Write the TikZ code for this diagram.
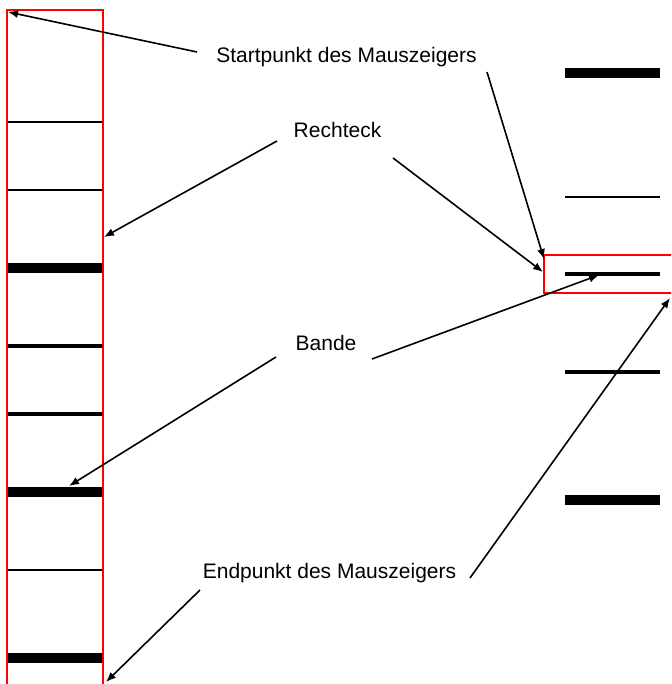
\documentclass[tikz,border=0pt]{standalone}
\usepackage{fontspec}
\setmainfont{Liberation Sans}
\usetikzlibrary{arrows.meta}

\begin{document}
\begin{tikzpicture}[
	x=0.75pt, y=-0.75pt,
	>={Latex[length=7.5pt,width=6pt]},
	pointer/.style={->, line width=1.2pt},
	redframe/.style={draw=red, line width=1.3pt},
	notetext/.style={font=\fontsize{15.75}{19}\selectfont, anchor=base, inner sep=0pt},
	thinband/.style={line width=1.65pt},
	midband/.style={line width=3.2pt},
	thickband/.style={line width=7pt}
	]
	\useasboundingbox (0,0) rectangle (671,684);
	\clip (0,0) rectangle (671,684);

	\foreach \y/\w in {122/thinband, 190/thinband, 268/thickband, 346/midband,
		414/midband, 492/thickband, 570/thinband, 658/thickband}
		\draw[\w] (7,\y) -- (102,\y);
	\foreach \y/\w in {73/thickband, 197/thinband, 274/midband, 372/midband, 500/thickband}
		\draw[\w] (565,\y) -- (660,\y);

	\draw[redframe] (7,10) rectangle (103,700);
	\draw[redframe] (544,255) rectangle (690,293);

	\node[notetext] (start) at (346.5,63) {Startpunkt des Mauszeigers};
	\node[notetext] (rechteck) at (337.5,138) {Rechteck};
	\node[notetext] (bande) at (326,350) {Bande};
	\node[notetext] (ende) at (329.5,578) {Endpunkt des Mauszeigers};

	\coordinate (start-l) at (197,52);
	\coordinate (start-r) at (487,72);
	\coordinate (rechteck-l) at (277,141);
	\coordinate (rechteck-r) at (393,158);
	\coordinate (bande-l) at (276,357);
	\coordinate (bande-r) at (372,359);
	\coordinate (ende-l) at (200,590);
	\coordinate (ende-r) at (470,578);

	\coordinate (links-oben) at (8,12);
	\coordinate (rechts-oben) at (544,259);
	\coordinate (links-rand) at (104,237);
	\coordinate (rechts-rand) at (543,272);
	\coordinate (links-bande) at (69,486);
	\coordinate (rechts-bande) at (599,275);
	\coordinate (links-unten) at (106,682);
	\coordinate (rechts-unten) at (670,298);

	\draw[pointer] (start-l) -- (links-oben);
	\draw[pointer] (start-r) -- (rechts-oben);
	\draw[pointer] (rechteck-l) -- (links-rand);
	\draw[pointer] (rechteck-r) -- (rechts-rand);
	\draw[pointer] (bande-l) -- (links-bande);
	\draw[pointer] (bande-r) -- (rechts-bande);
	\draw[pointer] (ende-l) -- (links-unten);
	\draw[pointer] (ende-r) -- (rechts-unten);
\end{tikzpicture}
\end{document}
